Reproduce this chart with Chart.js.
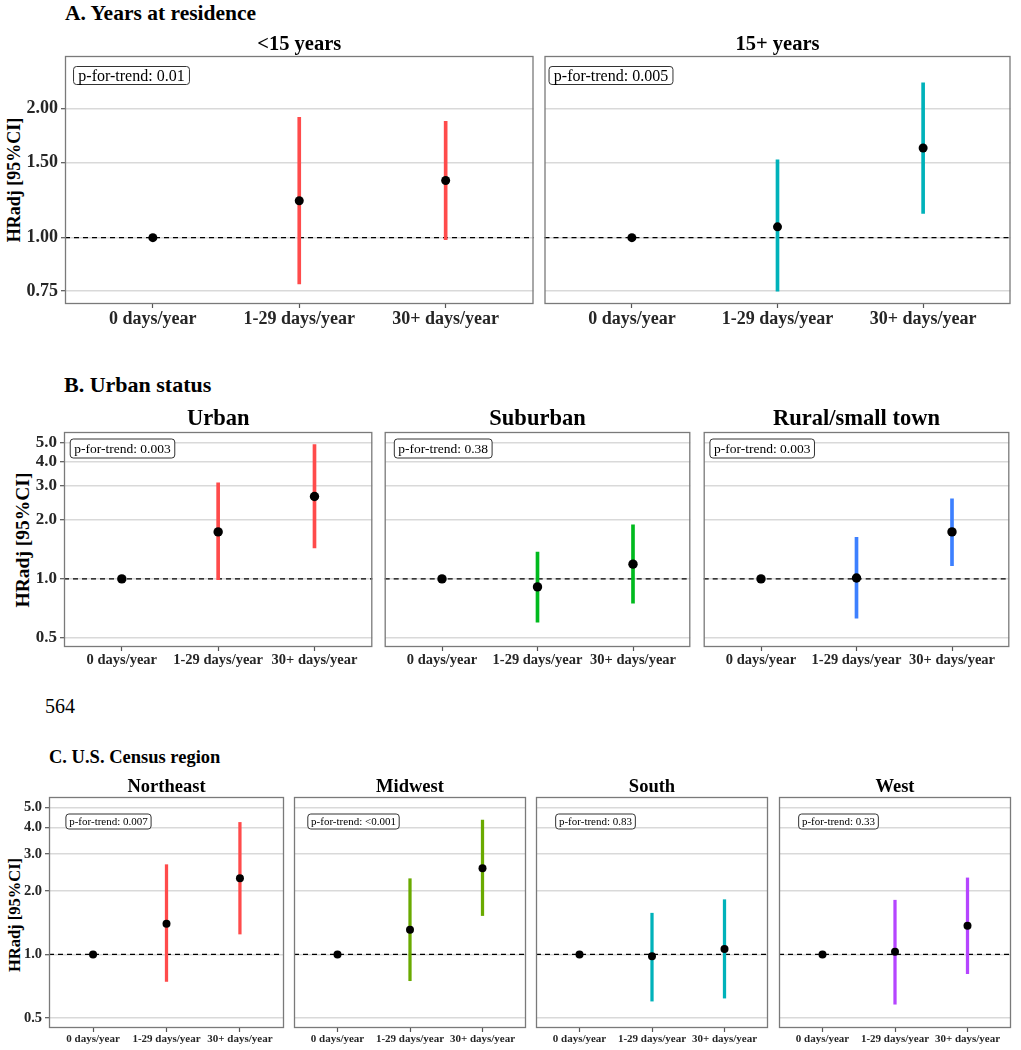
<!DOCTYPE html>
<html>
<head>
<meta charset="utf-8">
<script src="https://cdn.jsdelivr.net/npm/chart.js@4.4.0/dist/chart.umd.min.js"></script>
<style>
  html, body { margin: 0; padding: 0; background: #fff; }
  body { width: 1021px; height: 1050px; position: relative; overflow: hidden; font-family: "Liberation Serif", "Times New Roman", serif; }
  canvas { position: absolute; }
  .txt { position: absolute; white-space: nowrap; line-height: 1; color: #000; }
  .b { font-weight: bold; }
  .ytitle { position: absolute; white-space: nowrap; line-height: 1; font-weight: bold; transform: translate(-50%, -50%) rotate(-90deg); }
</style>
</head>
<body>
<div class="txt b" style="left:65px;top:3px;font-size:21.5px;">A. Years at residence</div>
<div class="ytitle" style="left:14px;top:180px;font-size:18px;">HRadj [95%CI]</div>
<div class="txt b" style="left:64px;top:374px;font-size:22px;">B. Urban status</div>
<div class="ytitle" style="left:23px;top:540px;font-size:19.5px;">HRadj [95%CI]</div>
<div class="txt" style="left:45px;top:696px;font-size:20px;">564</div>
<div class="txt b" style="left:49px;top:748px;font-size:18.5px;">C. U.S. Census region</div>
<div class="ytitle" style="left:15px;top:915px;font-size:16.5px;">HRadj [95%CI]</div>

<script>
// ---------------- DATA ----------------
const X_LABELS = ['0 days/year', '1-29 days/year', '30+ days/year'];

// A. Years at residence
const A_TICKS = [0.75, 1.00, 1.50, 2.00];
const A_LT15_HR = [1.00, 1.22, 1.36];
const A_LT15_LO = [null, 0.78, 0.99];
const A_LT15_HI = [null, 1.91, 1.87];
const A_15P_HR  = [1.00, 1.06, 1.62];
const A_15P_LO  = [null, 0.75, 1.14];
const A_15P_HI  = [null, 1.52, 2.30];

// B. Urban status
const BC_TICKS = [0.5, 1.0, 2.0, 3.0, 4.0, 5.0];
const B_URBAN_HR = [1.00, 1.74, 2.64];
const B_URBAN_LO = [null, 0.99, 1.44];
const B_URBAN_HI = [null, 3.10, 4.87];
const B_SUB_HR   = [1.00, 0.91, 1.19];
const B_SUB_LO   = [null, 0.60, 0.75];
const B_SUB_HI   = [null, 1.37, 1.89];
const B_RURAL_HR = [1.00, 1.01, 1.74];
const B_RURAL_LO = [null, 0.63, 1.17];
const B_RURAL_HI = [null, 1.63, 2.57];

// C. U.S. Census region
const C_NE_HR = [1.00, 1.40, 2.30];
const C_NE_LO = [null, 0.744, 1.25];
const C_NE_HI = [null, 2.67, 4.24];
const C_MW_HR = [1.00, 1.31, 2.57];
const C_MW_LO = [null, 0.75, 1.53];
const C_MW_HI = [null, 2.29, 4.35];
const C_S_HR  = [1.00, 0.98, 1.06];
const C_S_LO  = [null, 0.60, 0.62];
const C_S_HI  = [null, 1.57, 1.82];
const C_W_HR  = [1.00, 1.03, 1.37];
const C_W_LO  = [null, 0.58, 0.81];
const C_W_HI  = [null, 1.81, 2.31];

const REF_VALUE = 1.0;

// ---------------- LAYOUT ----------------
const rows = {
  A: { top: 56, h: 248, padT: 32, padB: 30, padL: 60, yMin: 0.708, yMax: 2.657, ticks: A_TICKS, dec: 2,
       yFont: 18, xFont: 18, stripFont: 20.5, stripGap: 6, pFont: 16, pH: 18, pCx: 66, pCy: 19, r: 4.5, bw: 3 },
  B: { top: 432, h: 215, padT: 35, padB: 28, padL: 60, yMin: 0.448, yMax: 5.65, ticks: BC_TICKS, dec: 1,
       yFont: 17, xFont: 14.5, stripFont: 22.5, stripGap: 7, pFont: 13.5, pH: 19, pCx: 58, pCy: 16, r: 4.7, bw: 3 },
  C: { top: 797, h: 231, padT: 30, padB: 22, padL: 48, yMin: 0.447, yMax: 5.6, ticks: BC_TICKS, dec: 1,
       yFont: 14.5, xFont: 11, stripFont: 18.5, stripGap: 5, pFont: 11, pH: 15, pCx: 59, pCy: 24, r: 4, bw: 2.6 }
};

const panels = [
  { row: 'A', left: 65,  w: 471, first: true,  title: '<15 years', p: '0.01',   hr: A_LT15_HR, lo: A_LT15_LO, hi: A_LT15_HI, color: '#FF4B4B' },
  { row: 'A', left: 542, w: 471, first: false, title: '15+ years', p: '0.005',  hr: A_15P_HR,  lo: A_15P_LO,  hi: A_15P_HI,  color: '#00B2BA' },
  { row: 'B', left: 64,  w: 311, first: true,  title: 'Urban', p: '0.003', hr: B_URBAN_HR, lo: B_URBAN_LO, hi: B_URBAN_HI, color: '#FF4B4B' },
  { row: 'B', left: 382, w: 311, first: false, title: 'Suburban', p: '0.38', hr: B_SUB_HR, lo: B_SUB_LO, hi: B_SUB_HI, color: '#00BA1E' },
  { row: 'B', left: 701, w: 311, first: false, title: 'Rural/small town', p: '0.003', hr: B_RURAL_HR, lo: B_RURAL_LO, hi: B_RURAL_HI, color: '#3D80FF' },
  { row: 'C', left: 49,  w: 237, first: true,  title: 'Northeast', p: '0.007', hr: C_NE_HR, lo: C_NE_LO, hi: C_NE_HI, color: '#FF4B4B' },
  { row: 'C', left: 292, w: 236, first: false, title: 'Midwest', p: '<0.001', hr: C_MW_HR, lo: C_MW_LO, hi: C_MW_HI, color: '#6AAA00' },
  { row: 'C', left: 534, w: 236, first: false, title: 'South', p: '0.83', hr: C_S_HR, lo: C_S_LO, hi: C_S_HI, color: '#00B2BA' },
  { row: 'C', left: 777, w: 236, first: false, title: 'West', p: '0.33', hr: C_W_HR, lo: C_W_LO, hi: C_W_HI, color: '#B545FF' }
];

const FONT = '"Liberation Serif", "Times New Roman", serif';

const facetPlugin = {
  id: 'facet',
  beforeDatasetsDraw(chart, args, o) {
    const ctx = chart.ctx, a = chart.chartArea;
    const y = chart.scales.y.getPixelForValue(REF_VALUE);
    ctx.save();
    ctx.strokeStyle = '#000';
    ctx.lineWidth = 1.3;
    ctx.setLineDash([5, 4]);
    ctx.beginPath();
    ctx.moveTo(a.left, y);
    ctx.lineTo(a.right, y);
    ctx.stroke();
    ctx.restore();
  },
  afterDraw(chart, args, o) {
    const ctx = chart.ctx, a = chart.chartArea;
    ctx.save();
    // panel border
    ctx.strokeStyle = '#7a7a7a';
    ctx.lineWidth = 1.3;
    ctx.strokeRect(a.left + 0.5, a.top + 0.5, a.right - a.left - 1, a.bottom - a.top - 1);
    // strip title
    ctx.fillStyle = '#000';
    ctx.font = 'bold ' + o.stripFont + 'px ' + FONT;
    ctx.textAlign = 'center';
    ctx.textBaseline = 'alphabetic';
    ctx.fillText(o.title, (a.left + a.right) / 2, a.top - o.stripGap);
    // p-for-trend box
    const txt = 'p-for-trend: ' + o.p;
    ctx.font = o.pFont + 'px ' + FONT;
    const tw = ctx.measureText(txt).width;
    const bw = tw + o.pFont * 0.6, bh = o.pH;
    const cx = a.left + o.pCx, cy = a.top + o.pCy;
    const x0 = cx - bw / 2, y0 = cy - bh / 2;
    ctx.fillStyle = '#fff';
    ctx.strokeStyle = '#333';
    ctx.lineWidth = 1;
    ctx.beginPath();
    if (ctx.roundRect) ctx.roundRect(x0 + 0.5, y0 + 0.5, bw, bh, 3); else ctx.rect(x0 + 0.5, y0 + 0.5, bw, bh);
    ctx.fill();
    ctx.stroke();
    ctx.fillStyle = '#000';
    ctx.textAlign = 'center';
    ctx.textBaseline = 'middle';
    ctx.fillText(txt, cx + 0.5, cy + 1.5);
    ctx.restore();
  }
};

panels.forEach((p) => {
  const R = rows[p.row];
  const padL = p.first ? R.padL : 2;
  const padR = 2;
  const cw = padL + p.w + padR;
  const ch = R.padT + R.h + R.padB;
  const cv = document.createElement('canvas');
  cv.width = cw; cv.height = ch;
  cv.style.left = (p.left - padL) + 'px';
  cv.style.top = (R.top - R.padT) + 'px';
  cv.style.width = cw + 'px';
  cv.style.height = ch + 'px';
  document.body.appendChild(cv);

  const ciData = p.lo.map((l, i) => (l == null ? null : { x: i + 1, y: [l, p.hi[i]] })).filter(Boolean);
  const ptData = p.hr.map((v, i) => ({ x: i + 1, y: v }));

  new Chart(cv.getContext('2d'), {
    type: 'bar',
    data: {
      datasets: [
        { type: 'scatter', data: ptData, pointRadius: R.r, pointHoverRadius: R.r,
          backgroundColor: '#000', borderColor: '#000', borderWidth: 0, order: 0 },
        { type: 'bar', data: ciData, backgroundColor: p.color, borderWidth: 0,
          barThickness: R.bw, grouped: false, order: 1 }
      ]
    },
    options: {
      responsive: false,
      animation: false,
      devicePixelRatio: 1,
      layout: { padding: { left: 0, right: padR, top: R.padT, bottom: 0 } },
      plugins: {
        legend: { display: false },
        tooltip: { enabled: false },
        facet: { title: p.title, p: p.p, stripFont: R.stripFont, stripGap: R.stripGap,
                 pFont: R.pFont, pH: R.pH, pCx: R.pCx, pCy: R.pCy }
      },
      scales: {
        x: {
          type: 'linear',
          min: 0.4, max: 3.6,
          offset: false,
          afterBuildTicks: (s) => { s.ticks = X_LABELS.map((_, i) => ({ value: i + 1 })); },
          afterFit: (s) => { s.height = R.padB; },
          border: { display: false },
          grid: { display: true, offset: false, drawOnChartArea: false, drawTicks: true, tickLength: 4, tickColor: '#555', tickWidth: 1.2 },
          ticks: {
            autoSkip: false, maxRotation: 0, minRotation: 0, padding: 1,
            color: '#262626',
            font: { family: FONT, weight: 'bold', size: R.xFont },
            callback: (v) => X_LABELS[Math.round(v) - 1] || ''
          }
        },
        y: {
          type: 'logarithmic',
          min: R.yMin, max: R.yMax,
          afterBuildTicks: (s) => { s.ticks = R.ticks.map((v) => ({ value: v })); },
          afterFit: (s) => { s.width = padL; },
          border: { display: false },
          grid: { color: '#d9d9d9', lineWidth: 1.4, drawTicks: p.first, tickLength: 4, tickColor: '#555', tickWidth: 1.2 },
          ticks: {
            display: p.first, padding: 3,
            color: '#262626',
            font: { family: FONT, weight: 'bold', size: R.yFont },
            callback: (v) => Number(v).toFixed(R.dec)
          }
        }
      }
    },
    plugins: [facetPlugin]
  });
});
</script>
</body>
</html>
